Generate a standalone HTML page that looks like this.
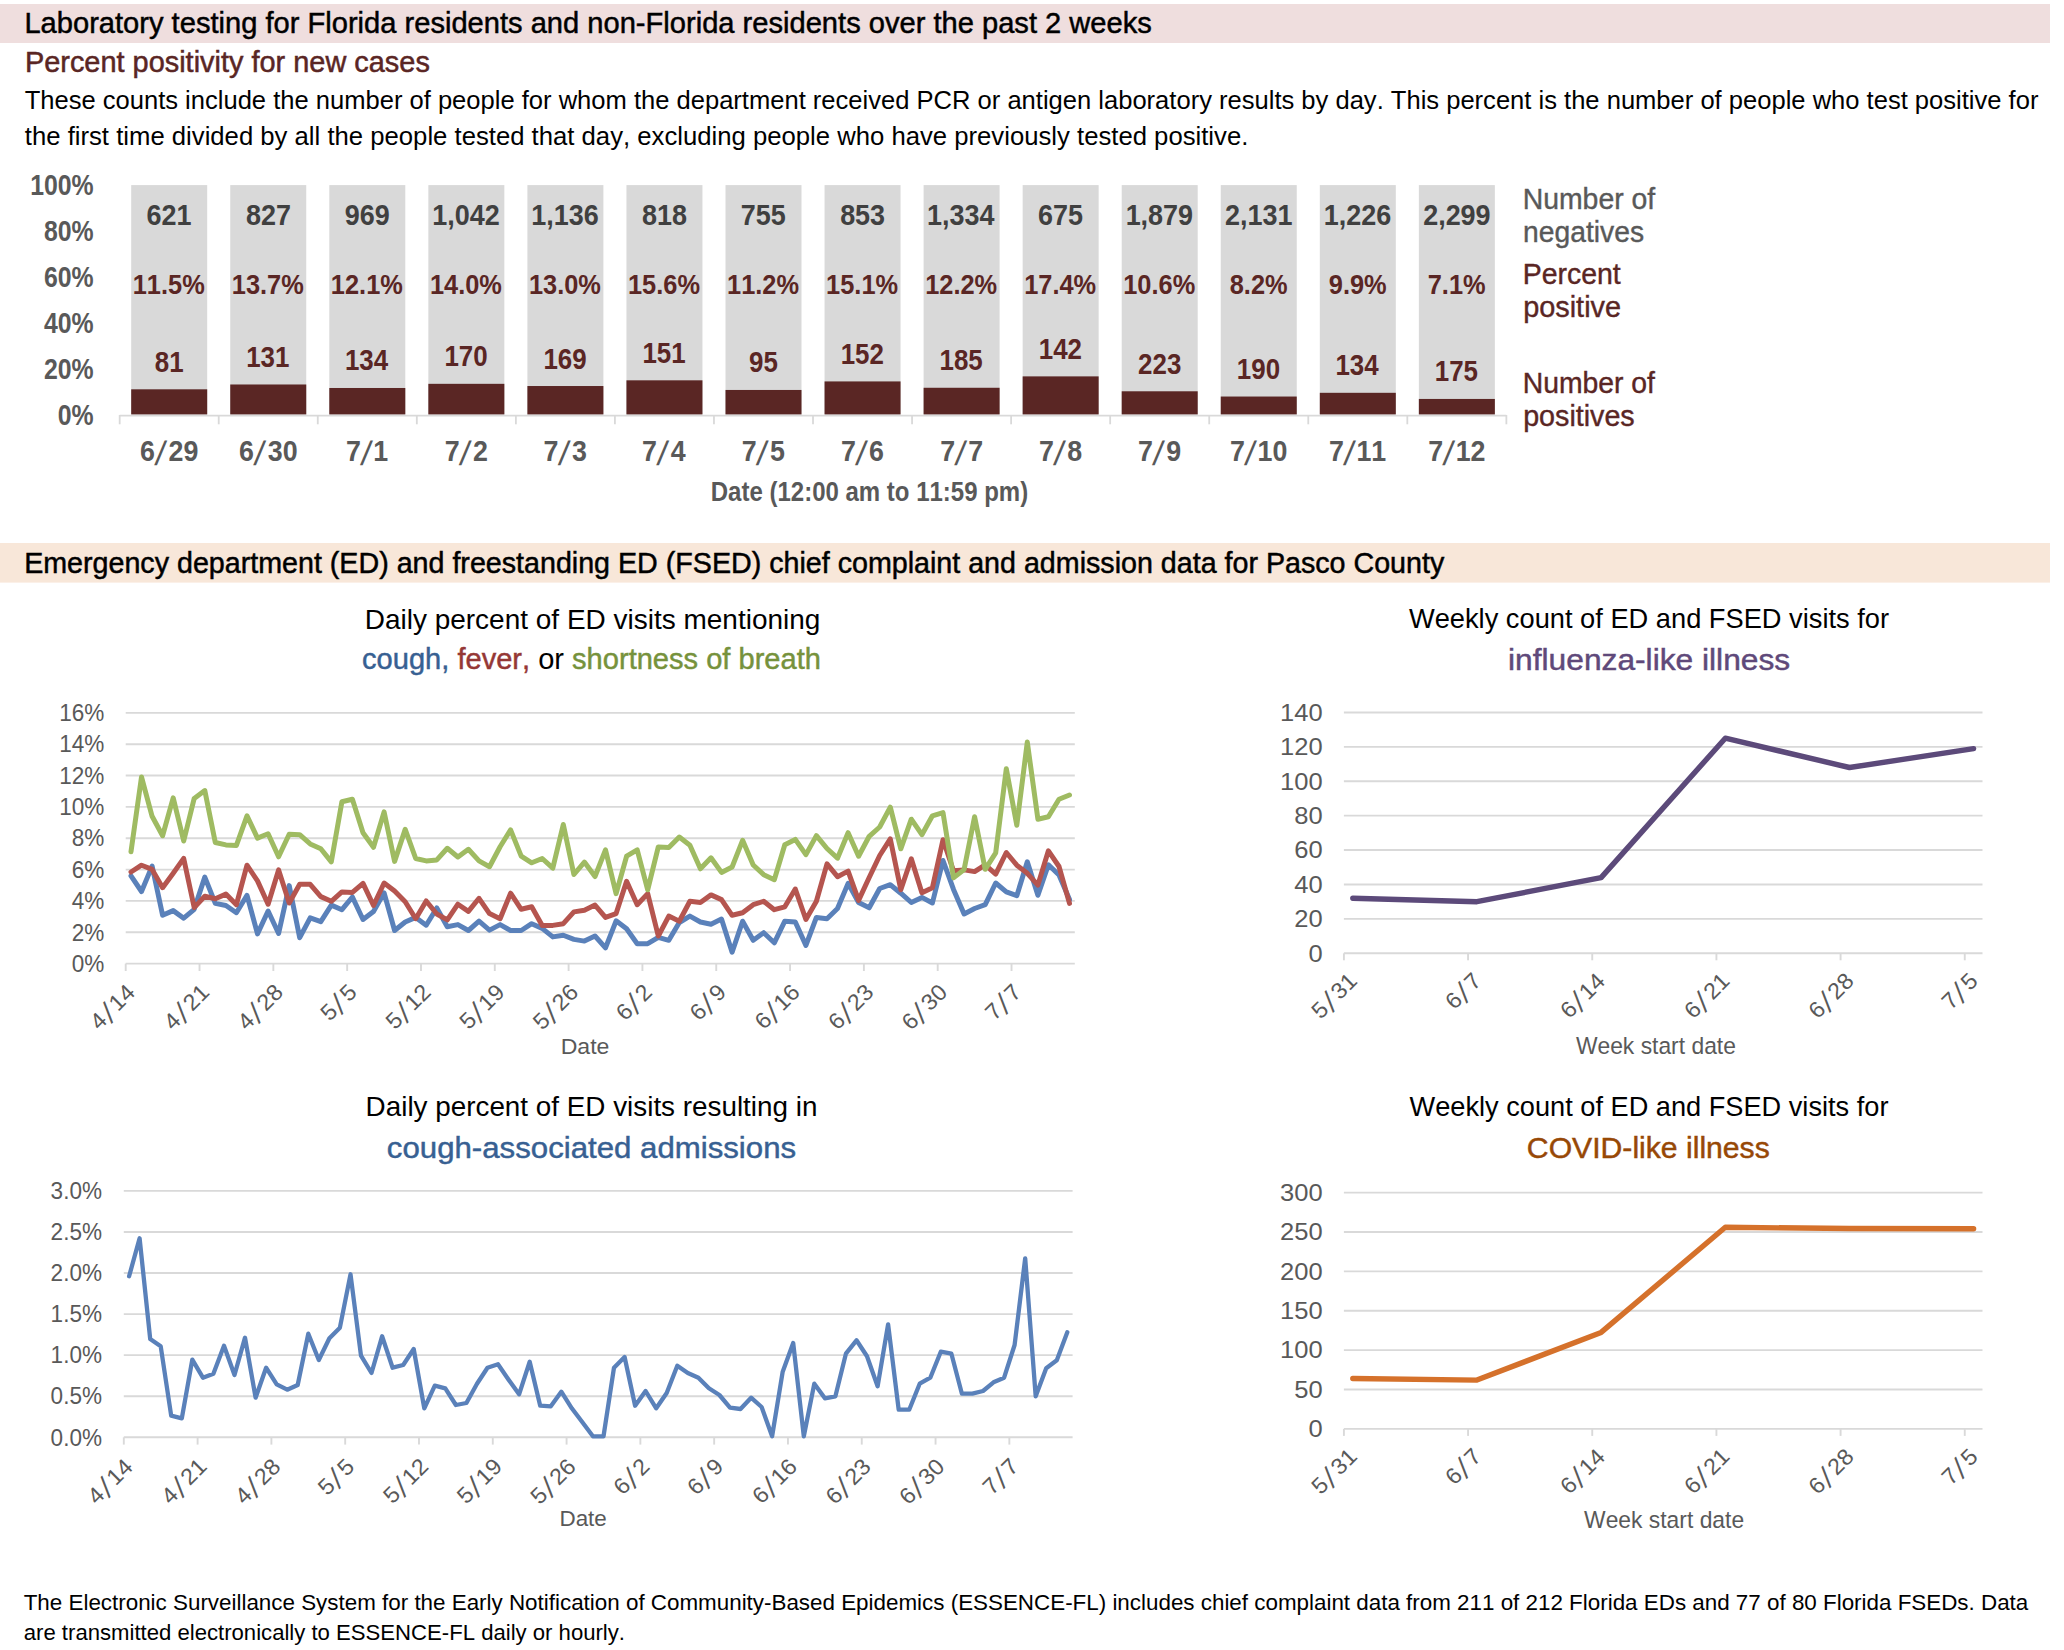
<!DOCTYPE html>
<html><head><meta charset="utf-8"><title>Pasco County COVID-19 report</title>
<style>
html,body{margin:0;padding:0;background:#fff;}
body{width:2064px;height:1650px;overflow:hidden;}
svg{display:block;font-family:"Liberation Sans",Arial,sans-serif;font-kerning:none;}
</style></head><body>
<svg width="2064" height="1650" viewBox="0 0 2064 1650">
<rect x="0.00" y="4.00" width="2050.00" height="39.00" fill="#EFDEDE"/>
<text x="24.41" y="32.90" font-size="30.23" textLength="1127.44" lengthAdjust="spacingAndGlyphs" fill="#000" stroke="#000" stroke-width="0.5">Laboratory testing for Florida residents and non-Florida residents over the past 2 weeks</text>
<text x="24.93" y="71.50" font-size="29.22" textLength="404.92" lengthAdjust="spacingAndGlyphs" fill="#5A2624" stroke="#5A2624" stroke-width="0.5">Percent positivity for new cases</text>
<text x="24.63" y="108.90" font-size="26.60" textLength="2013.80" lengthAdjust="spacingAndGlyphs" fill="#000">These counts include the number of people for whom the department received PCR or antigen laboratory results by day. This percent is the number of people who test positive for</text>
<text x="24.81" y="144.50" font-size="26.60" textLength="1223.53" lengthAdjust="spacingAndGlyphs" fill="#000">the first time divided by all the people tested that day, excluding people who have previously tested positive.</text>
<text x="57.75" y="424.60" font-size="29.36" textLength="35.90" lengthAdjust="spacingAndGlyphs" font-weight="bold" fill="#595959">0%</text>
<text x="43.94" y="378.72" font-size="29.36" textLength="49.72" lengthAdjust="spacingAndGlyphs" font-weight="bold" fill="#595959">20%</text>
<text x="43.94" y="332.84" font-size="29.36" textLength="49.72" lengthAdjust="spacingAndGlyphs" font-weight="bold" fill="#595959">40%</text>
<text x="43.94" y="286.96" font-size="29.36" textLength="49.72" lengthAdjust="spacingAndGlyphs" font-weight="bold" fill="#595959">60%</text>
<text x="43.94" y="241.08" font-size="29.36" textLength="49.72" lengthAdjust="spacingAndGlyphs" font-weight="bold" fill="#595959">80%</text>
<text x="30.13" y="195.20" font-size="29.36" textLength="63.53" lengthAdjust="spacingAndGlyphs" font-weight="bold" fill="#595959">100%</text>
<rect x="131.20" y="185.10" width="76.00" height="229.40" fill="#D9D9D9"/>
<rect x="131.20" y="389.31" width="76.00" height="25.19" fill="#5A2624"/>
<text x="146.60" y="225.00" font-size="29.94" textLength="44.96" lengthAdjust="spacingAndGlyphs" font-weight="bold" fill="#404040">621</text>
<text x="132.76" y="294.00" font-size="28.20" textLength="71.96" lengthAdjust="spacingAndGlyphs" font-weight="bold" fill="#5A2624">11.5%</text>
<text x="154.74" y="371.81" font-size="28.78" textLength="28.81" lengthAdjust="spacingAndGlyphs" font-weight="bold" fill="#5A2624">81</text>
<g transform="translate(169.20,461.00)" fill="#595959"><text x="-29.12" y="0" font-size="29.80" textLength="14.91" lengthAdjust="spacingAndGlyphs" font-weight="bold">6</text><text transform="translate(-14.87,4.37) matrix(1,0,-0.1459,1,0,0)" font-size="33.77">/</text><text x="-0.70" y="0" font-size="29.80" textLength="29.83" lengthAdjust="spacingAndGlyphs" font-weight="bold">29</text></g>
<rect x="230.25" y="185.10" width="76.00" height="229.40" fill="#D9D9D9"/>
<rect x="230.25" y="384.49" width="76.00" height="30.01" fill="#5A2624"/>
<text x="245.93" y="225.00" font-size="29.94" textLength="44.96" lengthAdjust="spacingAndGlyphs" font-weight="bold" fill="#404040">827</text>
<text x="231.81" y="294.00" font-size="28.20" textLength="71.96" lengthAdjust="spacingAndGlyphs" font-weight="bold" fill="#5A2624">13.7%</text>
<text x="246.19" y="366.99" font-size="28.78" textLength="43.22" lengthAdjust="spacingAndGlyphs" font-weight="bold" fill="#5A2624">131</text>
<g transform="translate(268.25,461.00)" fill="#595959"><text x="-29.22" y="0" font-size="29.80" textLength="14.91" lengthAdjust="spacingAndGlyphs" font-weight="bold">6</text><text transform="translate(-14.98,4.37) matrix(1,0,-0.1459,1,0,0)" font-size="33.77">/</text><text x="-0.49" y="0" font-size="29.80" textLength="29.83" lengthAdjust="spacingAndGlyphs" font-weight="bold">30</text></g>
<rect x="329.30" y="185.10" width="76.00" height="229.40" fill="#D9D9D9"/>
<rect x="329.30" y="387.99" width="76.00" height="26.51" fill="#5A2624"/>
<text x="344.85" y="225.00" font-size="29.94" textLength="44.96" lengthAdjust="spacingAndGlyphs" font-weight="bold" fill="#404040">969</text>
<text x="330.86" y="294.00" font-size="28.20" textLength="71.96" lengthAdjust="spacingAndGlyphs" font-weight="bold" fill="#5A2624">12.1%</text>
<text x="344.95" y="370.49" font-size="28.78" textLength="43.22" lengthAdjust="spacingAndGlyphs" font-weight="bold" fill="#5A2624">134</text>
<g transform="translate(367.30,461.00)" fill="#595959"><text x="-21.38" y="0" font-size="29.80" textLength="14.91" lengthAdjust="spacingAndGlyphs" font-weight="bold">7</text><text transform="translate(-7.35,4.37) matrix(1,0,-0.1459,1,0,0)" font-size="33.77">/</text><text x="6.06" y="0" font-size="29.80" textLength="14.91" lengthAdjust="spacingAndGlyphs" font-weight="bold">1</text></g>
<rect x="428.35" y="185.10" width="76.00" height="229.40" fill="#D9D9D9"/>
<rect x="428.35" y="383.83" width="76.00" height="30.67" fill="#5A2624"/>
<text x="432.32" y="225.00" font-size="29.94" textLength="67.44" lengthAdjust="spacingAndGlyphs" font-weight="bold" fill="#404040">1,042</text>
<text x="429.91" y="294.00" font-size="28.20" textLength="71.96" lengthAdjust="spacingAndGlyphs" font-weight="bold" fill="#5A2624">14.0%</text>
<text x="444.46" y="366.33" font-size="28.78" textLength="43.22" lengthAdjust="spacingAndGlyphs" font-weight="bold" fill="#5A2624">170</text>
<g transform="translate(466.35,461.00)" fill="#595959"><text x="-21.60" y="0" font-size="29.80" textLength="14.91" lengthAdjust="spacingAndGlyphs" font-weight="bold">7</text><text transform="translate(-7.56,4.37) matrix(1,0,-0.1459,1,0,0)" font-size="33.77">/</text><text x="6.61" y="0" font-size="29.80" textLength="14.91" lengthAdjust="spacingAndGlyphs" font-weight="bold">2</text></g>
<rect x="527.40" y="185.10" width="76.00" height="229.40" fill="#D9D9D9"/>
<rect x="527.40" y="386.02" width="76.00" height="28.48" fill="#5A2624"/>
<text x="531.32" y="225.00" font-size="29.94" textLength="67.44" lengthAdjust="spacingAndGlyphs" font-weight="bold" fill="#404040">1,136</text>
<text x="528.96" y="294.00" font-size="28.20" textLength="71.96" lengthAdjust="spacingAndGlyphs" font-weight="bold" fill="#5A2624">13.0%</text>
<text x="543.46" y="368.52" font-size="28.78" textLength="43.22" lengthAdjust="spacingAndGlyphs" font-weight="bold" fill="#5A2624">169</text>
<g transform="translate(565.40,461.00)" fill="#595959"><text x="-21.81" y="0" font-size="29.80" textLength="14.91" lengthAdjust="spacingAndGlyphs" font-weight="bold">7</text><text transform="translate(-7.77,4.37) matrix(1,0,-0.1459,1,0,0)" font-size="33.77">/</text><text x="6.71" y="0" font-size="29.80" textLength="14.91" lengthAdjust="spacingAndGlyphs" font-weight="bold">3</text></g>
<rect x="626.45" y="185.10" width="76.00" height="229.40" fill="#D9D9D9"/>
<rect x="626.45" y="380.32" width="76.00" height="34.18" fill="#5A2624"/>
<text x="641.96" y="225.00" font-size="29.94" textLength="44.96" lengthAdjust="spacingAndGlyphs" font-weight="bold" fill="#404040">818</text>
<text x="628.01" y="294.00" font-size="28.20" textLength="71.96" lengthAdjust="spacingAndGlyphs" font-weight="bold" fill="#5A2624">15.6%</text>
<text x="642.39" y="362.82" font-size="28.78" textLength="43.22" lengthAdjust="spacingAndGlyphs" font-weight="bold" fill="#5A2624">151</text>
<g transform="translate(664.45,461.00)" fill="#595959"><text x="-22.33" y="0" font-size="29.80" textLength="14.91" lengthAdjust="spacingAndGlyphs" font-weight="bold">7</text><text transform="translate(-8.29,4.37) matrix(1,0,-0.1459,1,0,0)" font-size="33.77">/</text><text x="6.40" y="0" font-size="29.80" textLength="14.91" lengthAdjust="spacingAndGlyphs" font-weight="bold">4</text></g>
<rect x="725.50" y="185.10" width="76.00" height="229.40" fill="#D9D9D9"/>
<rect x="725.50" y="389.96" width="76.00" height="24.54" fill="#5A2624"/>
<text x="740.82" y="225.00" font-size="29.94" textLength="44.96" lengthAdjust="spacingAndGlyphs" font-weight="bold" fill="#404040">755</text>
<text x="727.06" y="294.00" font-size="28.20" textLength="71.96" lengthAdjust="spacingAndGlyphs" font-weight="bold" fill="#5A2624">11.2%</text>
<text x="749.01" y="372.46" font-size="28.78" textLength="28.81" lengthAdjust="spacingAndGlyphs" font-weight="bold" fill="#5A2624">95</text>
<g transform="translate(763.50,461.00)" fill="#595959"><text x="-21.82" y="0" font-size="29.80" textLength="14.91" lengthAdjust="spacingAndGlyphs" font-weight="bold">7</text><text transform="translate(-7.78,4.37) matrix(1,0,-0.1459,1,0,0)" font-size="33.77">/</text><text x="6.50" y="0" font-size="29.80" textLength="14.91" lengthAdjust="spacingAndGlyphs" font-weight="bold">5</text></g>
<rect x="824.55" y="185.10" width="76.00" height="229.40" fill="#D9D9D9"/>
<rect x="824.55" y="381.42" width="76.00" height="33.08" fill="#5A2624"/>
<text x="840.13" y="225.00" font-size="29.94" textLength="44.96" lengthAdjust="spacingAndGlyphs" font-weight="bold" fill="#404040">853</text>
<text x="826.11" y="294.00" font-size="28.20" textLength="71.96" lengthAdjust="spacingAndGlyphs" font-weight="bold" fill="#5A2624">15.1%</text>
<text x="840.64" y="363.92" font-size="28.78" textLength="43.22" lengthAdjust="spacingAndGlyphs" font-weight="bold" fill="#5A2624">152</text>
<g transform="translate(862.55,461.00)" fill="#595959"><text x="-21.63" y="0" font-size="29.80" textLength="14.91" lengthAdjust="spacingAndGlyphs" font-weight="bold">7</text><text transform="translate(-7.59,4.37) matrix(1,0,-0.1459,1,0,0)" font-size="33.77">/</text><text x="6.53" y="0" font-size="29.80" textLength="14.91" lengthAdjust="spacingAndGlyphs" font-weight="bold">6</text></g>
<rect x="923.60" y="185.10" width="76.00" height="229.40" fill="#D9D9D9"/>
<rect x="923.60" y="387.77" width="76.00" height="26.73" fill="#5A2624"/>
<text x="927.11" y="225.00" font-size="29.94" textLength="67.44" lengthAdjust="spacingAndGlyphs" font-weight="bold" fill="#404040">1,334</text>
<text x="925.16" y="294.00" font-size="28.20" textLength="71.96" lengthAdjust="spacingAndGlyphs" font-weight="bold" fill="#5A2624">12.2%</text>
<text x="939.54" y="370.27" font-size="28.78" textLength="43.22" lengthAdjust="spacingAndGlyphs" font-weight="bold" fill="#5A2624">185</text>
<g transform="translate(961.60,461.00)" fill="#595959"><text x="-21.44" y="0" font-size="29.80" textLength="14.91" lengthAdjust="spacingAndGlyphs" font-weight="bold">7</text><text transform="translate(-7.40,4.37) matrix(1,0,-0.1459,1,0,0)" font-size="33.77">/</text><text x="6.55" y="0" font-size="29.80" textLength="14.91" lengthAdjust="spacingAndGlyphs" font-weight="bold">7</text></g>
<rect x="1022.65" y="185.10" width="76.00" height="229.40" fill="#D9D9D9"/>
<rect x="1022.65" y="376.38" width="76.00" height="38.12" fill="#5A2624"/>
<text x="1038.05" y="225.00" font-size="29.94" textLength="44.96" lengthAdjust="spacingAndGlyphs" font-weight="bold" fill="#404040">675</text>
<text x="1024.21" y="294.00" font-size="28.20" textLength="71.96" lengthAdjust="spacingAndGlyphs" font-weight="bold" fill="#5A2624">17.4%</text>
<text x="1038.74" y="358.88" font-size="28.78" textLength="43.22" lengthAdjust="spacingAndGlyphs" font-weight="bold" fill="#5A2624">142</text>
<g transform="translate(1060.65,461.00)" fill="#595959"><text x="-21.76" y="0" font-size="29.80" textLength="14.91" lengthAdjust="spacingAndGlyphs" font-weight="bold">7</text><text transform="translate(-7.73,4.37) matrix(1,0,-0.1459,1,0,0)" font-size="33.77">/</text><text x="6.52" y="0" font-size="29.80" textLength="14.91" lengthAdjust="spacingAndGlyphs" font-weight="bold">8</text></g>
<rect x="1121.70" y="185.10" width="76.00" height="229.40" fill="#D9D9D9"/>
<rect x="1121.70" y="391.28" width="76.00" height="23.22" fill="#5A2624"/>
<text x="1125.63" y="225.00" font-size="29.94" textLength="67.44" lengthAdjust="spacingAndGlyphs" font-weight="bold" fill="#404040">1,879</text>
<text x="1123.26" y="294.00" font-size="28.20" textLength="71.96" lengthAdjust="spacingAndGlyphs" font-weight="bold" fill="#5A2624">10.6%</text>
<text x="1138.11" y="373.78" font-size="28.78" textLength="43.22" lengthAdjust="spacingAndGlyphs" font-weight="bold" fill="#5A2624">223</text>
<g transform="translate(1159.70,461.00)" fill="#595959"><text x="-21.64" y="0" font-size="29.80" textLength="14.91" lengthAdjust="spacingAndGlyphs" font-weight="bold">7</text><text transform="translate(-7.60,4.37) matrix(1,0,-0.1459,1,0,0)" font-size="33.77">/</text><text x="6.57" y="0" font-size="29.80" textLength="14.91" lengthAdjust="spacingAndGlyphs" font-weight="bold">9</text></g>
<rect x="1220.75" y="185.10" width="76.00" height="229.40" fill="#D9D9D9"/>
<rect x="1220.75" y="396.54" width="76.00" height="17.96" fill="#5A2624"/>
<text x="1224.94" y="225.00" font-size="29.94" textLength="67.44" lengthAdjust="spacingAndGlyphs" font-weight="bold" fill="#404040">2,131</text>
<text x="1229.76" y="294.00" font-size="28.20" textLength="57.84" lengthAdjust="spacingAndGlyphs" font-weight="bold" fill="#5A2624">8.2%</text>
<text x="1236.86" y="379.04" font-size="28.78" textLength="43.22" lengthAdjust="spacingAndGlyphs" font-weight="bold" fill="#5A2624">190</text>
<g transform="translate(1258.75,461.00)" fill="#595959"><text x="-28.66" y="0" font-size="29.80" textLength="14.91" lengthAdjust="spacingAndGlyphs" font-weight="bold">7</text><text transform="translate(-14.63,4.37) matrix(1,0,-0.1459,1,0,0)" font-size="33.77">/</text><text x="-1.22" y="0" font-size="29.80" textLength="29.83" lengthAdjust="spacingAndGlyphs" font-weight="bold">10</text></g>
<rect x="1319.80" y="185.10" width="76.00" height="229.40" fill="#D9D9D9"/>
<rect x="1319.80" y="392.81" width="76.00" height="21.69" fill="#5A2624"/>
<text x="1323.72" y="225.00" font-size="29.94" textLength="67.44" lengthAdjust="spacingAndGlyphs" font-weight="bold" fill="#404040">1,226</text>
<text x="1328.77" y="294.00" font-size="28.20" textLength="57.84" lengthAdjust="spacingAndGlyphs" font-weight="bold" fill="#5A2624">9.9%</text>
<text x="1335.45" y="375.31" font-size="28.78" textLength="43.22" lengthAdjust="spacingAndGlyphs" font-weight="bold" fill="#5A2624">134</text>
<g transform="translate(1357.80,461.00)" fill="#595959"><text x="-28.84" y="0" font-size="29.80" textLength="14.91" lengthAdjust="spacingAndGlyphs" font-weight="bold">7</text><text transform="translate(-14.80,4.37) matrix(1,0,-0.1459,1,0,0)" font-size="33.77">/</text><text x="-1.39" y="0" font-size="29.80" textLength="29.83" lengthAdjust="spacingAndGlyphs" font-weight="bold">11</text></g>
<rect x="1418.85" y="185.10" width="76.00" height="229.40" fill="#D9D9D9"/>
<rect x="1418.85" y="398.95" width="76.00" height="15.55" fill="#5A2624"/>
<text x="1423.16" y="225.00" font-size="29.94" textLength="67.44" lengthAdjust="spacingAndGlyphs" font-weight="bold" fill="#404040">2,299</text>
<text x="1427.72" y="294.00" font-size="28.20" textLength="57.84" lengthAdjust="spacingAndGlyphs" font-weight="bold" fill="#5A2624">7.1%</text>
<text x="1434.79" y="381.45" font-size="28.78" textLength="43.22" lengthAdjust="spacingAndGlyphs" font-weight="bold" fill="#5A2624">175</text>
<g transform="translate(1456.85,461.00)" fill="#595959"><text x="-28.68" y="0" font-size="29.80" textLength="14.91" lengthAdjust="spacingAndGlyphs" font-weight="bold">7</text><text transform="translate(-14.64,4.37) matrix(1,0,-0.1459,1,0,0)" font-size="33.77">/</text><text x="-1.23" y="0" font-size="29.80" textLength="29.83" lengthAdjust="spacingAndGlyphs" font-weight="bold">12</text></g>
<line x1="119.67" y1="415.60" x2="1506.38" y2="415.60" stroke="#D9D9D9" stroke-width="1.60"/>
<line x1="119.67" y1="415.00" x2="119.67" y2="424.30" stroke="#D9D9D9" stroke-width="1.80"/>
<line x1="218.72" y1="415.00" x2="218.72" y2="424.30" stroke="#D9D9D9" stroke-width="1.80"/>
<line x1="317.77" y1="415.00" x2="317.77" y2="424.30" stroke="#D9D9D9" stroke-width="1.80"/>
<line x1="416.82" y1="415.00" x2="416.82" y2="424.30" stroke="#D9D9D9" stroke-width="1.80"/>
<line x1="515.88" y1="415.00" x2="515.88" y2="424.30" stroke="#D9D9D9" stroke-width="1.80"/>
<line x1="614.92" y1="415.00" x2="614.92" y2="424.30" stroke="#D9D9D9" stroke-width="1.80"/>
<line x1="713.97" y1="415.00" x2="713.97" y2="424.30" stroke="#D9D9D9" stroke-width="1.80"/>
<line x1="813.02" y1="415.00" x2="813.02" y2="424.30" stroke="#D9D9D9" stroke-width="1.80"/>
<line x1="912.07" y1="415.00" x2="912.07" y2="424.30" stroke="#D9D9D9" stroke-width="1.80"/>
<line x1="1011.12" y1="415.00" x2="1011.12" y2="424.30" stroke="#D9D9D9" stroke-width="1.80"/>
<line x1="1110.17" y1="415.00" x2="1110.17" y2="424.30" stroke="#D9D9D9" stroke-width="1.80"/>
<line x1="1209.22" y1="415.00" x2="1209.22" y2="424.30" stroke="#D9D9D9" stroke-width="1.80"/>
<line x1="1308.27" y1="415.00" x2="1308.27" y2="424.30" stroke="#D9D9D9" stroke-width="1.80"/>
<line x1="1407.32" y1="415.00" x2="1407.32" y2="424.30" stroke="#D9D9D9" stroke-width="1.80"/>
<line x1="1506.38" y1="415.00" x2="1506.38" y2="424.30" stroke="#D9D9D9" stroke-width="1.80"/>
<text x="710.79" y="501.30" font-size="27.62" textLength="317.40" lengthAdjust="spacingAndGlyphs" font-weight="bold" fill="#595959">Date (12:00 am to 11:59 pm)</text>
<text x="1522.67" y="209.30" font-size="29.80" textLength="132.59" lengthAdjust="spacingAndGlyphs" fill="#595959" stroke="#595959" stroke-width="0.4">Number of</text>
<text x="1523.12" y="242.00" font-size="29.80" textLength="120.90" lengthAdjust="spacingAndGlyphs" fill="#595959" stroke="#595959" stroke-width="0.4">negatives</text>
<text x="1522.66" y="283.70" font-size="29.80" textLength="98.14" lengthAdjust="spacingAndGlyphs" fill="#5A2624" stroke="#5A2624" stroke-width="0.4">Percent</text>
<text x="1523.14" y="316.50" font-size="29.80" textLength="97.95" lengthAdjust="spacingAndGlyphs" fill="#5A2624" stroke="#5A2624" stroke-width="0.4">positive</text>
<text x="1522.68" y="393.40" font-size="29.80" textLength="132.28" lengthAdjust="spacingAndGlyphs" fill="#5A2624" stroke="#5A2624" stroke-width="0.4">Number of</text>
<text x="1523.15" y="426.00" font-size="29.80" textLength="111.58" lengthAdjust="spacingAndGlyphs" fill="#5A2624" stroke="#5A2624" stroke-width="0.4">positives</text>
<rect x="0.00" y="543.00" width="2050.00" height="39.60" fill="#F8E7D9"/>
<text x="24.15" y="573.20" font-size="29.36" textLength="1420.11" lengthAdjust="spacingAndGlyphs" fill="#000" stroke="#000" stroke-width="0.5">Emergency department (ED) and freestanding ED (FSED) chief complaint and admission data for Pasco County</text>
<line x1="125.70" y1="963.60" x2="1074.80" y2="963.60" stroke="#D9D9D9" stroke-width="1.90"/>
<text x="71.82" y="971.85" font-size="23.98" textLength="32.58" lengthAdjust="spacingAndGlyphs" fill="#595959">0%</text>
<line x1="125.70" y1="932.26" x2="1074.80" y2="932.26" stroke="#D9D9D9" stroke-width="1.90"/>
<text x="71.82" y="940.51" font-size="23.98" textLength="32.58" lengthAdjust="spacingAndGlyphs" fill="#595959">2%</text>
<line x1="125.70" y1="900.92" x2="1074.80" y2="900.92" stroke="#D9D9D9" stroke-width="1.90"/>
<text x="71.82" y="909.17" font-size="23.98" textLength="32.58" lengthAdjust="spacingAndGlyphs" fill="#595959">4%</text>
<line x1="125.70" y1="869.58" x2="1074.80" y2="869.58" stroke="#D9D9D9" stroke-width="1.90"/>
<text x="71.82" y="877.83" font-size="23.98" textLength="32.58" lengthAdjust="spacingAndGlyphs" fill="#595959">6%</text>
<line x1="125.70" y1="838.24" x2="1074.80" y2="838.24" stroke="#D9D9D9" stroke-width="1.90"/>
<text x="71.82" y="846.49" font-size="23.98" textLength="32.58" lengthAdjust="spacingAndGlyphs" fill="#595959">8%</text>
<line x1="125.70" y1="806.90" x2="1074.80" y2="806.90" stroke="#D9D9D9" stroke-width="1.90"/>
<text x="59.28" y="815.15" font-size="23.98" textLength="45.12" lengthAdjust="spacingAndGlyphs" fill="#595959">10%</text>
<line x1="125.70" y1="775.56" x2="1074.80" y2="775.56" stroke="#D9D9D9" stroke-width="1.90"/>
<text x="59.28" y="783.81" font-size="23.98" textLength="45.12" lengthAdjust="spacingAndGlyphs" fill="#595959">12%</text>
<line x1="125.70" y1="744.22" x2="1074.80" y2="744.22" stroke="#D9D9D9" stroke-width="1.90"/>
<text x="59.28" y="752.47" font-size="23.98" textLength="45.12" lengthAdjust="spacingAndGlyphs" fill="#595959">14%</text>
<line x1="125.70" y1="712.88" x2="1074.80" y2="712.88" stroke="#D9D9D9" stroke-width="1.90"/>
<text x="59.28" y="721.13" font-size="23.98" textLength="45.12" lengthAdjust="spacingAndGlyphs" fill="#595959">16%</text>
<line x1="125.70" y1="963.60" x2="125.70" y2="971.00" stroke="#D9D9D9" stroke-width="1.90"/>
<g transform="translate(136.00,994.30) rotate(-45)" fill="#595959"><text x="-51.96" y="0" font-size="22.70" textLength="13.00" lengthAdjust="spacingAndGlyphs">4</text><text transform="translate(-38.34,3.32) matrix(1,0,-0.1693,1,0,0)" font-size="28.60">/</text><text x="-25.32" y="0" font-size="22.70" textLength="26.01" lengthAdjust="spacingAndGlyphs">14</text></g>
<line x1="199.52" y1="963.60" x2="199.52" y2="971.00" stroke="#D9D9D9" stroke-width="1.90"/>
<g transform="translate(209.82,994.30) rotate(-45)" fill="#595959"><text x="-52.11" y="0" font-size="22.70" textLength="13.00" lengthAdjust="spacingAndGlyphs">4</text><text transform="translate(-38.49,3.32) matrix(1,0,-0.1693,1,0,0)" font-size="28.60">/</text><text x="-24.87" y="0" font-size="22.70" textLength="26.01" lengthAdjust="spacingAndGlyphs">21</text></g>
<line x1="273.34" y1="963.60" x2="273.34" y2="971.00" stroke="#D9D9D9" stroke-width="1.90"/>
<g transform="translate(283.64,994.30) rotate(-45)" fill="#595959"><text x="-52.23" y="0" font-size="22.70" textLength="13.00" lengthAdjust="spacingAndGlyphs">4</text><text transform="translate(-38.61,3.32) matrix(1,0,-0.1693,1,0,0)" font-size="28.60">/</text><text x="-24.99" y="0" font-size="22.70" textLength="26.01" lengthAdjust="spacingAndGlyphs">28</text></g>
<line x1="347.16" y1="963.60" x2="347.16" y2="971.00" stroke="#D9D9D9" stroke-width="1.90"/>
<g transform="translate(357.46,994.30) rotate(-45)" fill="#595959"><text x="-39.21" y="0" font-size="22.70" textLength="13.00" lengthAdjust="spacingAndGlyphs">5</text><text transform="translate(-25.89,3.32) matrix(1,0,-0.1693,1,0,0)" font-size="28.60">/</text><text x="-12.02" y="0" font-size="22.70" textLength="13.00" lengthAdjust="spacingAndGlyphs">5</text></g>
<line x1="420.98" y1="963.60" x2="420.98" y2="971.00" stroke="#D9D9D9" stroke-width="1.90"/>
<g transform="translate(431.28,994.30) rotate(-45)" fill="#595959"><text x="-51.17" y="0" font-size="22.70" textLength="13.00" lengthAdjust="spacingAndGlyphs">5</text><text transform="translate(-37.85,3.32) matrix(1,0,-0.1693,1,0,0)" font-size="28.60">/</text><text x="-24.83" y="0" font-size="22.70" textLength="26.01" lengthAdjust="spacingAndGlyphs">12</text></g>
<line x1="494.79" y1="963.60" x2="494.79" y2="971.00" stroke="#D9D9D9" stroke-width="1.90"/>
<g transform="translate(505.09,994.30) rotate(-45)" fill="#595959"><text x="-51.24" y="0" font-size="22.70" textLength="13.00" lengthAdjust="spacingAndGlyphs">5</text><text transform="translate(-37.92,3.32) matrix(1,0,-0.1693,1,0,0)" font-size="28.60">/</text><text x="-24.90" y="0" font-size="22.70" textLength="26.01" lengthAdjust="spacingAndGlyphs">19</text></g>
<line x1="568.61" y1="963.60" x2="568.61" y2="971.00" stroke="#D9D9D9" stroke-width="1.90"/>
<g transform="translate(578.91,994.30) rotate(-45)" fill="#595959"><text x="-51.92" y="0" font-size="22.70" textLength="13.00" lengthAdjust="spacingAndGlyphs">5</text><text transform="translate(-38.60,3.32) matrix(1,0,-0.1693,1,0,0)" font-size="28.60">/</text><text x="-24.98" y="0" font-size="22.70" textLength="26.01" lengthAdjust="spacingAndGlyphs">26</text></g>
<line x1="642.43" y1="963.60" x2="642.43" y2="971.00" stroke="#D9D9D9" stroke-width="1.90"/>
<g transform="translate(652.73,994.30) rotate(-45)" fill="#595959"><text x="-38.73" y="0" font-size="22.70" textLength="13.00" lengthAdjust="spacingAndGlyphs">6</text><text transform="translate(-25.45,3.32) matrix(1,0,-0.1693,1,0,0)" font-size="28.60">/</text><text x="-11.83" y="0" font-size="22.70" textLength="13.00" lengthAdjust="spacingAndGlyphs">2</text></g>
<line x1="716.25" y1="963.60" x2="716.25" y2="971.00" stroke="#D9D9D9" stroke-width="1.90"/>
<g transform="translate(726.55,994.30) rotate(-45)" fill="#595959"><text x="-38.88" y="0" font-size="22.70" textLength="13.00" lengthAdjust="spacingAndGlyphs">6</text><text transform="translate(-25.60,3.32) matrix(1,0,-0.1693,1,0,0)" font-size="28.60">/</text><text x="-11.90" y="0" font-size="22.70" textLength="13.00" lengthAdjust="spacingAndGlyphs">9</text></g>
<line x1="790.07" y1="963.60" x2="790.07" y2="971.00" stroke="#D9D9D9" stroke-width="1.90"/>
<g transform="translate(800.37,994.30) rotate(-45)" fill="#595959"><text x="-51.27" y="0" font-size="22.70" textLength="13.00" lengthAdjust="spacingAndGlyphs">6</text><text transform="translate(-38.00,3.32) matrix(1,0,-0.1693,1,0,0)" font-size="28.60">/</text><text x="-24.98" y="0" font-size="22.70" textLength="26.01" lengthAdjust="spacingAndGlyphs">16</text></g>
<line x1="863.89" y1="963.60" x2="863.89" y2="971.00" stroke="#D9D9D9" stroke-width="1.90"/>
<g transform="translate(874.19,994.30) rotate(-45)" fill="#595959"><text x="-51.88" y="0" font-size="22.70" textLength="13.00" lengthAdjust="spacingAndGlyphs">6</text><text transform="translate(-38.60,3.32) matrix(1,0,-0.1693,1,0,0)" font-size="28.60">/</text><text x="-24.98" y="0" font-size="22.70" textLength="26.01" lengthAdjust="spacingAndGlyphs">23</text></g>
<line x1="937.71" y1="963.60" x2="937.71" y2="971.00" stroke="#D9D9D9" stroke-width="1.90"/>
<g transform="translate(948.01,994.30) rotate(-45)" fill="#595959"><text x="-52.28" y="0" font-size="22.70" textLength="13.00" lengthAdjust="spacingAndGlyphs">6</text><text transform="translate(-39.00,3.32) matrix(1,0,-0.1693,1,0,0)" font-size="28.60">/</text><text x="-25.09" y="0" font-size="22.70" textLength="26.01" lengthAdjust="spacingAndGlyphs">30</text></g>
<line x1="1011.53" y1="963.60" x2="1011.53" y2="971.00" stroke="#D9D9D9" stroke-width="1.90"/>
<g transform="translate(1021.83,994.30) rotate(-45)" fill="#595959"><text x="-38.56" y="0" font-size="22.70" textLength="13.00" lengthAdjust="spacingAndGlyphs">7</text><text transform="translate(-25.43,3.32) matrix(1,0,-0.1693,1,0,0)" font-size="28.60">/</text><text x="-11.83" y="0" font-size="22.70" textLength="13.00" lengthAdjust="spacingAndGlyphs">7</text></g>
<text x="560.71" y="1053.70" font-size="22.82" textLength="48.72" lengthAdjust="spacingAndGlyphs" fill="#595959">Date</text>
<polyline fill="none" stroke="#5A81BA" stroke-width="5.00" stroke-linejoin="round" stroke-linecap="round" points="131.0,875.8 141.5,891.5 152.1,866.1 162.6,915.3 173.2,910.6 183.7,918.2 194.2,909.3 204.8,877.1 215.3,903.4 225.9,905.5 236.4,912.7 247.0,895.3 257.5,933.9 268.1,911.0 278.6,933.5 289.2,885.6 299.7,937.7 310.2,917.8 320.8,921.6 331.3,905.1 341.9,909.7 352.4,897.0 363.0,919.5 373.5,911.4 384.1,892.8 394.6,930.5 405.2,922.0 415.7,917.4 426.2,925.2 436.8,908.0 447.3,926.7 457.9,924.6 468.4,930.5 479.0,921.2 489.5,930.1 500.1,924.6 510.6,930.5 521.2,930.5 531.7,923.7 542.2,928.4 552.8,936.9 563.3,935.2 573.9,939.4 584.4,941.1 595.0,936.0 605.5,947.9 616.1,920.8 626.6,928.8 637.2,943.7 647.7,943.7 658.3,937.3 668.8,940.3 679.3,922.5 689.9,916.1 700.4,922.0 711.0,924.2 721.5,919.1 732.1,952.2 742.6,921.2 753.2,940.3 763.7,932.7 774.3,942.8 784.8,921.2 795.3,922.0 805.9,945.4 816.4,917.4 827.0,918.7 837.5,908.5 848.1,883.4 858.6,902.5 869.2,907.8 879.7,888.5 890.3,884.7 900.8,893.2 911.3,902.5 921.9,897.4 932.4,903.0 943.0,860.5 953.5,889.4 964.1,914.0 974.6,908.5 985.2,904.7 995.7,883.0 1006.3,891.9 1016.8,895.7 1027.3,861.8 1037.9,895.3 1048.4,864.8 1059.0,875.0 1069.5,899.6"/>
<polyline fill="none" stroke="#B5554F" stroke-width="5.00" stroke-linejoin="round" stroke-linecap="round" points="131.0,872.0 141.5,865.2 152.1,869.4 162.6,887.7 173.2,873.3 183.7,858.4 194.2,907.6 204.8,896.2 215.3,898.7 225.9,894.1 236.4,904.7 247.0,865.2 257.5,880.9 268.1,904.2 278.6,869.9 289.2,903.0 299.7,884.3 310.2,884.3 320.8,896.6 331.3,901.3 341.9,891.9 352.4,892.4 363.0,883.4 373.5,905.5 384.1,883.0 394.6,891.1 405.2,901.7 415.7,918.7 426.2,901.0 436.8,914.0 447.3,919.9 457.9,904.2 468.4,911.4 479.0,898.3 489.5,913.6 500.1,918.7 510.6,893.2 521.2,909.3 531.7,906.8 542.2,925.4 552.8,925.4 563.3,923.7 573.9,911.9 584.4,910.2 595.0,905.1 605.5,917.4 616.1,913.6 626.6,881.3 637.2,904.7 647.7,893.6 658.3,936.0 668.8,916.1 679.3,921.2 689.9,901.3 700.4,902.5 711.0,894.9 721.5,899.6 732.1,915.3 742.6,912.7 753.2,904.7 763.7,901.3 774.3,909.7 784.8,906.8 795.3,889.0 805.9,919.5 816.4,901.3 827.0,863.9 837.5,876.7 848.1,871.1 858.6,900.4 869.2,877.5 879.7,855.5 890.3,838.9 900.8,889.8 911.3,858.8 921.9,892.8 932.4,887.7 943.0,839.8 953.5,870.7 964.1,869.9 974.6,871.6 985.2,864.8 995.7,874.1 1006.3,852.5 1016.8,865.2 1027.3,873.3 1037.9,885.1 1048.4,850.8 1059.0,866.5 1069.5,903.4"/>
<polyline fill="none" stroke="#9FBB62" stroke-width="5.00" stroke-linejoin="round" stroke-linecap="round" points="131.0,851.7 141.5,777.0 152.1,816.3 162.6,835.7 173.2,797.9 183.7,841.0 194.2,798.4 204.8,790.6 215.3,842.5 225.9,844.9 236.4,845.4 247.0,815.8 257.5,838.1 268.1,833.8 278.6,856.8 289.2,834.2 299.7,834.7 310.2,843.9 320.8,848.8 331.3,861.9 341.9,801.8 352.4,799.3 363.0,832.8 373.5,847.3 384.1,811.9 394.6,861.4 405.2,829.4 415.7,858.5 426.2,860.9 436.8,859.9 447.3,848.3 457.9,857.0 468.4,849.3 479.0,860.9 489.5,866.7 500.1,846.8 510.6,829.9 521.2,856.1 531.7,862.8 542.2,858.5 552.8,868.2 563.3,824.5 573.9,874.5 584.4,862.1 595.0,876.5 605.5,849.8 616.1,893.6 626.6,856.2 637.2,849.9 647.7,889.8 658.3,846.9 668.8,847.6 679.3,837.0 689.9,845.3 700.4,868.8 711.0,857.8 721.5,872.4 732.1,867.0 742.6,840.3 753.2,865.0 763.7,874.7 774.3,879.7 784.8,844.7 795.3,839.4 805.9,854.6 816.4,835.6 827.0,848.5 837.5,858.2 848.1,832.7 858.6,856.2 869.2,836.3 879.7,827.0 890.3,807.1 900.8,848.8 911.3,819.2 921.9,834.7 932.4,815.8 943.0,812.6 953.5,877.9 964.1,869.6 974.6,816.8 985.2,869.3 995.7,852.9 1006.3,768.8 1016.8,825.3 1027.3,742.1 1037.9,819.2 1048.4,816.8 1059.0,799.3 1069.5,795.0"/>
<line x1="123.80" y1="1437.30" x2="1072.60" y2="1437.30" stroke="#D9D9D9" stroke-width="1.90"/>
<text x="50.62" y="1445.55" font-size="23.98" textLength="51.38" lengthAdjust="spacingAndGlyphs" fill="#595959">0.0%</text>
<line x1="123.80" y1="1396.23" x2="1072.60" y2="1396.23" stroke="#D9D9D9" stroke-width="1.90"/>
<text x="50.62" y="1404.48" font-size="23.98" textLength="51.38" lengthAdjust="spacingAndGlyphs" fill="#595959">0.5%</text>
<line x1="123.80" y1="1355.16" x2="1072.60" y2="1355.16" stroke="#D9D9D9" stroke-width="1.90"/>
<text x="50.62" y="1363.41" font-size="23.98" textLength="51.38" lengthAdjust="spacingAndGlyphs" fill="#595959">1.0%</text>
<line x1="123.80" y1="1314.09" x2="1072.60" y2="1314.09" stroke="#D9D9D9" stroke-width="1.90"/>
<text x="50.62" y="1322.34" font-size="23.98" textLength="51.38" lengthAdjust="spacingAndGlyphs" fill="#595959">1.5%</text>
<line x1="123.80" y1="1273.02" x2="1072.60" y2="1273.02" stroke="#D9D9D9" stroke-width="1.90"/>
<text x="50.62" y="1281.27" font-size="23.98" textLength="51.38" lengthAdjust="spacingAndGlyphs" fill="#595959">2.0%</text>
<line x1="123.80" y1="1231.95" x2="1072.60" y2="1231.95" stroke="#D9D9D9" stroke-width="1.90"/>
<text x="50.62" y="1240.20" font-size="23.98" textLength="51.38" lengthAdjust="spacingAndGlyphs" fill="#595959">2.5%</text>
<line x1="123.80" y1="1190.88" x2="1072.60" y2="1190.88" stroke="#D9D9D9" stroke-width="1.90"/>
<text x="50.62" y="1199.13" font-size="23.98" textLength="51.38" lengthAdjust="spacingAndGlyphs" fill="#595959">3.0%</text>
<line x1="123.80" y1="1437.30" x2="123.80" y2="1444.60" stroke="#D9D9D9" stroke-width="1.90"/>
<g transform="translate(133.60,1468.70) rotate(-45)" fill="#595959"><text x="-51.96" y="0" font-size="22.70" textLength="13.00" lengthAdjust="spacingAndGlyphs">4</text><text transform="translate(-38.34,3.32) matrix(1,0,-0.1693,1,0,0)" font-size="28.60">/</text><text x="-25.32" y="0" font-size="22.70" textLength="26.01" lengthAdjust="spacingAndGlyphs">14</text></g>
<line x1="197.60" y1="1437.30" x2="197.60" y2="1444.60" stroke="#D9D9D9" stroke-width="1.90"/>
<g transform="translate(207.40,1468.70) rotate(-45)" fill="#595959"><text x="-52.11" y="0" font-size="22.70" textLength="13.00" lengthAdjust="spacingAndGlyphs">4</text><text transform="translate(-38.49,3.32) matrix(1,0,-0.1693,1,0,0)" font-size="28.60">/</text><text x="-24.87" y="0" font-size="22.70" textLength="26.01" lengthAdjust="spacingAndGlyphs">21</text></g>
<line x1="271.39" y1="1437.30" x2="271.39" y2="1444.60" stroke="#D9D9D9" stroke-width="1.90"/>
<g transform="translate(281.19,1468.70) rotate(-45)" fill="#595959"><text x="-52.23" y="0" font-size="22.70" textLength="13.00" lengthAdjust="spacingAndGlyphs">4</text><text transform="translate(-38.61,3.32) matrix(1,0,-0.1693,1,0,0)" font-size="28.60">/</text><text x="-24.99" y="0" font-size="22.70" textLength="26.01" lengthAdjust="spacingAndGlyphs">28</text></g>
<line x1="345.19" y1="1437.30" x2="345.19" y2="1444.60" stroke="#D9D9D9" stroke-width="1.90"/>
<g transform="translate(354.99,1468.70) rotate(-45)" fill="#595959"><text x="-39.21" y="0" font-size="22.70" textLength="13.00" lengthAdjust="spacingAndGlyphs">5</text><text transform="translate(-25.89,3.32) matrix(1,0,-0.1693,1,0,0)" font-size="28.60">/</text><text x="-12.02" y="0" font-size="22.70" textLength="13.00" lengthAdjust="spacingAndGlyphs">5</text></g>
<line x1="418.98" y1="1437.30" x2="418.98" y2="1444.60" stroke="#D9D9D9" stroke-width="1.90"/>
<g transform="translate(428.78,1468.70) rotate(-45)" fill="#595959"><text x="-51.17" y="0" font-size="22.70" textLength="13.00" lengthAdjust="spacingAndGlyphs">5</text><text transform="translate(-37.85,3.32) matrix(1,0,-0.1693,1,0,0)" font-size="28.60">/</text><text x="-24.83" y="0" font-size="22.70" textLength="26.01" lengthAdjust="spacingAndGlyphs">12</text></g>
<line x1="492.78" y1="1437.30" x2="492.78" y2="1444.60" stroke="#D9D9D9" stroke-width="1.90"/>
<g transform="translate(502.58,1468.70) rotate(-45)" fill="#595959"><text x="-51.24" y="0" font-size="22.70" textLength="13.00" lengthAdjust="spacingAndGlyphs">5</text><text transform="translate(-37.92,3.32) matrix(1,0,-0.1693,1,0,0)" font-size="28.60">/</text><text x="-24.90" y="0" font-size="22.70" textLength="26.01" lengthAdjust="spacingAndGlyphs">19</text></g>
<line x1="566.57" y1="1437.30" x2="566.57" y2="1444.60" stroke="#D9D9D9" stroke-width="1.90"/>
<g transform="translate(576.37,1468.70) rotate(-45)" fill="#595959"><text x="-51.92" y="0" font-size="22.70" textLength="13.00" lengthAdjust="spacingAndGlyphs">5</text><text transform="translate(-38.60,3.32) matrix(1,0,-0.1693,1,0,0)" font-size="28.60">/</text><text x="-24.98" y="0" font-size="22.70" textLength="26.01" lengthAdjust="spacingAndGlyphs">26</text></g>
<line x1="640.37" y1="1437.30" x2="640.37" y2="1444.60" stroke="#D9D9D9" stroke-width="1.90"/>
<g transform="translate(650.17,1468.70) rotate(-45)" fill="#595959"><text x="-38.73" y="0" font-size="22.70" textLength="13.00" lengthAdjust="spacingAndGlyphs">6</text><text transform="translate(-25.45,3.32) matrix(1,0,-0.1693,1,0,0)" font-size="28.60">/</text><text x="-11.83" y="0" font-size="22.70" textLength="13.00" lengthAdjust="spacingAndGlyphs">2</text></g>
<line x1="714.16" y1="1437.30" x2="714.16" y2="1444.60" stroke="#D9D9D9" stroke-width="1.90"/>
<g transform="translate(723.96,1468.70) rotate(-45)" fill="#595959"><text x="-38.88" y="0" font-size="22.70" textLength="13.00" lengthAdjust="spacingAndGlyphs">6</text><text transform="translate(-25.60,3.32) matrix(1,0,-0.1693,1,0,0)" font-size="28.60">/</text><text x="-11.90" y="0" font-size="22.70" textLength="13.00" lengthAdjust="spacingAndGlyphs">9</text></g>
<line x1="787.96" y1="1437.30" x2="787.96" y2="1444.60" stroke="#D9D9D9" stroke-width="1.90"/>
<g transform="translate(797.76,1468.70) rotate(-45)" fill="#595959"><text x="-51.27" y="0" font-size="22.70" textLength="13.00" lengthAdjust="spacingAndGlyphs">6</text><text transform="translate(-38.00,3.32) matrix(1,0,-0.1693,1,0,0)" font-size="28.60">/</text><text x="-24.98" y="0" font-size="22.70" textLength="26.01" lengthAdjust="spacingAndGlyphs">16</text></g>
<line x1="861.76" y1="1437.30" x2="861.76" y2="1444.60" stroke="#D9D9D9" stroke-width="1.90"/>
<g transform="translate(871.56,1468.70) rotate(-45)" fill="#595959"><text x="-51.88" y="0" font-size="22.70" textLength="13.00" lengthAdjust="spacingAndGlyphs">6</text><text transform="translate(-38.60,3.32) matrix(1,0,-0.1693,1,0,0)" font-size="28.60">/</text><text x="-24.98" y="0" font-size="22.70" textLength="26.01" lengthAdjust="spacingAndGlyphs">23</text></g>
<line x1="935.55" y1="1437.30" x2="935.55" y2="1444.60" stroke="#D9D9D9" stroke-width="1.90"/>
<g transform="translate(945.35,1468.70) rotate(-45)" fill="#595959"><text x="-52.28" y="0" font-size="22.70" textLength="13.00" lengthAdjust="spacingAndGlyphs">6</text><text transform="translate(-39.00,3.32) matrix(1,0,-0.1693,1,0,0)" font-size="28.60">/</text><text x="-25.09" y="0" font-size="22.70" textLength="26.01" lengthAdjust="spacingAndGlyphs">30</text></g>
<line x1="1009.35" y1="1437.30" x2="1009.35" y2="1444.60" stroke="#D9D9D9" stroke-width="1.90"/>
<g transform="translate(1019.15,1468.70) rotate(-45)" fill="#595959"><text x="-38.56" y="0" font-size="22.70" textLength="13.00" lengthAdjust="spacingAndGlyphs">7</text><text transform="translate(-25.43,3.32) matrix(1,0,-0.1693,1,0,0)" font-size="28.60">/</text><text x="-11.83" y="0" font-size="22.70" textLength="13.00" lengthAdjust="spacingAndGlyphs">7</text></g>
<text x="559.46" y="1525.80" font-size="22.82" textLength="47.33" lengthAdjust="spacingAndGlyphs" fill="#595959">Date</text>
<polyline fill="none" stroke="#5A81BA" stroke-width="4.30" stroke-linejoin="round" stroke-linecap="round" points="129.1,1276.3 139.6,1238.3 150.2,1339.0 160.7,1346.3 171.2,1415.7 181.8,1418.3 192.3,1359.7 202.9,1377.7 213.4,1373.7 224.0,1345.7 234.5,1375.0 245.0,1337.7 255.6,1397.7 266.1,1367.7 276.7,1384.3 287.2,1389.7 297.7,1385.0 308.3,1333.7 318.8,1360.0 329.4,1338.3 339.9,1327.7 350.5,1274.3 361.0,1355.7 371.5,1373.0 382.1,1336.3 392.6,1367.7 403.2,1365.0 413.7,1349.0 424.3,1408.3 434.8,1385.7 445.3,1388.3 455.9,1405.0 466.4,1403.0 477.0,1383.7 487.5,1367.7 498.0,1364.3 508.6,1379.7 519.1,1394.3 529.7,1361.7 540.2,1405.7 550.8,1406.3 561.3,1391.7 571.8,1408.3 582.4,1422.3 592.9,1436.3 603.5,1436.3 614.0,1367.7 624.6,1357.0 635.1,1405.7 645.6,1391.0 656.2,1408.3 666.7,1393.0 677.3,1365.7 687.8,1373.0 698.4,1377.7 708.9,1388.3 719.4,1395.0 730.0,1407.7 740.5,1409.0 751.1,1397.7 761.6,1407.0 772.1,1436.3 782.7,1371.7 793.2,1343.0 803.8,1436.3 814.3,1383.7 824.9,1398.3 835.4,1396.3 845.9,1353.7 856.5,1340.3 867.0,1356.3 877.6,1386.3 888.1,1324.3 898.7,1409.7 909.2,1409.7 919.7,1383.7 930.3,1377.7 940.8,1351.7 951.4,1353.7 961.9,1393.7 972.4,1393.7 983.0,1391.0 993.5,1382.3 1004.1,1377.7 1014.6,1345.0 1025.2,1258.3 1035.7,1396.3 1046.2,1368.3 1056.8,1360.3 1067.3,1332.3"/>
<line x1="1343.90" y1="953.30" x2="1982.50" y2="953.30" stroke="#D9D9D9" stroke-width="1.90"/>
<text x="1308.49" y="961.55" font-size="23.98" textLength="14.21" lengthAdjust="spacingAndGlyphs" fill="#595959">0</text>
<line x1="1343.90" y1="918.89" x2="1982.50" y2="918.89" stroke="#D9D9D9" stroke-width="1.90"/>
<text x="1294.29" y="927.14" font-size="23.98" textLength="28.41" lengthAdjust="spacingAndGlyphs" fill="#595959">20</text>
<line x1="1343.90" y1="884.48" x2="1982.50" y2="884.48" stroke="#D9D9D9" stroke-width="1.90"/>
<text x="1294.29" y="892.73" font-size="23.98" textLength="28.41" lengthAdjust="spacingAndGlyphs" fill="#595959">40</text>
<line x1="1343.90" y1="850.07" x2="1982.50" y2="850.07" stroke="#D9D9D9" stroke-width="1.90"/>
<text x="1294.29" y="858.32" font-size="23.98" textLength="28.41" lengthAdjust="spacingAndGlyphs" fill="#595959">60</text>
<line x1="1343.90" y1="815.66" x2="1982.50" y2="815.66" stroke="#D9D9D9" stroke-width="1.90"/>
<text x="1294.29" y="823.91" font-size="23.98" textLength="28.41" lengthAdjust="spacingAndGlyphs" fill="#595959">80</text>
<line x1="1343.90" y1="781.25" x2="1982.50" y2="781.25" stroke="#D9D9D9" stroke-width="1.90"/>
<text x="1280.08" y="789.50" font-size="23.98" textLength="42.62" lengthAdjust="spacingAndGlyphs" fill="#595959">100</text>
<line x1="1343.90" y1="746.84" x2="1982.50" y2="746.84" stroke="#D9D9D9" stroke-width="1.90"/>
<text x="1280.08" y="755.09" font-size="23.98" textLength="42.62" lengthAdjust="spacingAndGlyphs" fill="#595959">120</text>
<line x1="1343.90" y1="712.43" x2="1982.50" y2="712.43" stroke="#D9D9D9" stroke-width="1.90"/>
<text x="1280.08" y="720.68" font-size="23.98" textLength="42.62" lengthAdjust="spacingAndGlyphs" fill="#595959">140</text>
<line x1="1343.90" y1="953.30" x2="1343.90" y2="960.30" stroke="#D9D9D9" stroke-width="1.90"/>
<g transform="translate(1357.70,983.10) rotate(-45)" fill="#595959"><text x="-52.10" y="0" font-size="22.70" textLength="13.00" lengthAdjust="spacingAndGlyphs">5</text><text transform="translate(-38.77,3.32) matrix(1,0,-0.1693,1,0,0)" font-size="28.60">/</text><text x="-24.87" y="0" font-size="22.70" textLength="26.01" lengthAdjust="spacingAndGlyphs">31</text></g>
<line x1="1468.07" y1="953.30" x2="1468.07" y2="960.30" stroke="#D9D9D9" stroke-width="1.90"/>
<g transform="translate(1481.87,983.10) rotate(-45)" fill="#595959"><text x="-38.70" y="0" font-size="22.70" textLength="13.00" lengthAdjust="spacingAndGlyphs">6</text><text transform="translate(-25.43,3.32) matrix(1,0,-0.1693,1,0,0)" font-size="28.60">/</text><text x="-11.83" y="0" font-size="22.70" textLength="13.00" lengthAdjust="spacingAndGlyphs">7</text></g>
<line x1="1592.24" y1="953.30" x2="1592.24" y2="960.30" stroke="#D9D9D9" stroke-width="1.90"/>
<g transform="translate(1606.04,983.10) rotate(-45)" fill="#595959"><text x="-51.62" y="0" font-size="22.70" textLength="13.00" lengthAdjust="spacingAndGlyphs">6</text><text transform="translate(-38.34,3.32) matrix(1,0,-0.1693,1,0,0)" font-size="28.60">/</text><text x="-25.32" y="0" font-size="22.70" textLength="26.01" lengthAdjust="spacingAndGlyphs">14</text></g>
<line x1="1716.42" y1="953.30" x2="1716.42" y2="960.30" stroke="#D9D9D9" stroke-width="1.90"/>
<g transform="translate(1730.22,983.10) rotate(-45)" fill="#595959"><text x="-51.77" y="0" font-size="22.70" textLength="13.00" lengthAdjust="spacingAndGlyphs">6</text><text transform="translate(-38.49,3.32) matrix(1,0,-0.1693,1,0,0)" font-size="28.60">/</text><text x="-24.87" y="0" font-size="22.70" textLength="26.01" lengthAdjust="spacingAndGlyphs">21</text></g>
<line x1="1840.59" y1="953.30" x2="1840.59" y2="960.30" stroke="#D9D9D9" stroke-width="1.90"/>
<g transform="translate(1854.39,983.10) rotate(-45)" fill="#595959"><text x="-51.89" y="0" font-size="22.70" textLength="13.00" lengthAdjust="spacingAndGlyphs">6</text><text transform="translate(-38.61,3.32) matrix(1,0,-0.1693,1,0,0)" font-size="28.60">/</text><text x="-24.99" y="0" font-size="22.70" textLength="26.01" lengthAdjust="spacingAndGlyphs">28</text></g>
<line x1="1964.76" y1="953.30" x2="1964.76" y2="960.30" stroke="#D9D9D9" stroke-width="1.90"/>
<g transform="translate(1978.56,983.10) rotate(-45)" fill="#595959"><text x="-39.01" y="0" font-size="22.70" textLength="13.00" lengthAdjust="spacingAndGlyphs">7</text><text transform="translate(-25.89,3.32) matrix(1,0,-0.1693,1,0,0)" font-size="28.60">/</text><text x="-12.02" y="0" font-size="22.70" textLength="13.00" lengthAdjust="spacingAndGlyphs">5</text></g>
<polyline fill="none" stroke="#5C4A7A" stroke-width="5.40" stroke-linejoin="round" stroke-linecap="round" points="1352.8,898.2 1476.9,901.7 1601.1,877.6 1725.3,738.2 1849.5,767.5 1973.6,748.6"/>
<text x="1575.90" y="1053.90" font-size="23.26" textLength="160.02" lengthAdjust="spacingAndGlyphs" fill="#595959">Week start date</text>
<line x1="1343.90" y1="1428.90" x2="1982.50" y2="1428.90" stroke="#D9D9D9" stroke-width="1.90"/>
<text x="1308.49" y="1437.15" font-size="23.98" textLength="14.21" lengthAdjust="spacingAndGlyphs" fill="#595959">0</text>
<line x1="1343.90" y1="1389.52" x2="1982.50" y2="1389.52" stroke="#D9D9D9" stroke-width="1.90"/>
<text x="1294.29" y="1397.77" font-size="23.98" textLength="28.41" lengthAdjust="spacingAndGlyphs" fill="#595959">50</text>
<line x1="1343.90" y1="1350.14" x2="1982.50" y2="1350.14" stroke="#D9D9D9" stroke-width="1.90"/>
<text x="1280.08" y="1358.39" font-size="23.98" textLength="42.62" lengthAdjust="spacingAndGlyphs" fill="#595959">100</text>
<line x1="1343.90" y1="1310.76" x2="1982.50" y2="1310.76" stroke="#D9D9D9" stroke-width="1.90"/>
<text x="1280.08" y="1319.01" font-size="23.98" textLength="42.62" lengthAdjust="spacingAndGlyphs" fill="#595959">150</text>
<line x1="1343.90" y1="1271.38" x2="1982.50" y2="1271.38" stroke="#D9D9D9" stroke-width="1.90"/>
<text x="1280.08" y="1279.63" font-size="23.98" textLength="42.62" lengthAdjust="spacingAndGlyphs" fill="#595959">200</text>
<line x1="1343.90" y1="1232.00" x2="1982.50" y2="1232.00" stroke="#D9D9D9" stroke-width="1.90"/>
<text x="1280.08" y="1240.25" font-size="23.98" textLength="42.62" lengthAdjust="spacingAndGlyphs" fill="#595959">250</text>
<line x1="1343.90" y1="1192.62" x2="1982.50" y2="1192.62" stroke="#D9D9D9" stroke-width="1.90"/>
<text x="1280.08" y="1200.87" font-size="23.98" textLength="42.62" lengthAdjust="spacingAndGlyphs" fill="#595959">300</text>
<line x1="1343.90" y1="1428.90" x2="1343.90" y2="1435.90" stroke="#D9D9D9" stroke-width="1.90"/>
<g transform="translate(1357.70,1458.70) rotate(-45)" fill="#595959"><text x="-52.10" y="0" font-size="22.70" textLength="13.00" lengthAdjust="spacingAndGlyphs">5</text><text transform="translate(-38.77,3.32) matrix(1,0,-0.1693,1,0,0)" font-size="28.60">/</text><text x="-24.87" y="0" font-size="22.70" textLength="26.01" lengthAdjust="spacingAndGlyphs">31</text></g>
<line x1="1468.07" y1="1428.90" x2="1468.07" y2="1435.90" stroke="#D9D9D9" stroke-width="1.90"/>
<g transform="translate(1481.87,1458.70) rotate(-45)" fill="#595959"><text x="-38.70" y="0" font-size="22.70" textLength="13.00" lengthAdjust="spacingAndGlyphs">6</text><text transform="translate(-25.43,3.32) matrix(1,0,-0.1693,1,0,0)" font-size="28.60">/</text><text x="-11.83" y="0" font-size="22.70" textLength="13.00" lengthAdjust="spacingAndGlyphs">7</text></g>
<line x1="1592.24" y1="1428.90" x2="1592.24" y2="1435.90" stroke="#D9D9D9" stroke-width="1.90"/>
<g transform="translate(1606.04,1458.70) rotate(-45)" fill="#595959"><text x="-51.62" y="0" font-size="22.70" textLength="13.00" lengthAdjust="spacingAndGlyphs">6</text><text transform="translate(-38.34,3.32) matrix(1,0,-0.1693,1,0,0)" font-size="28.60">/</text><text x="-25.32" y="0" font-size="22.70" textLength="26.01" lengthAdjust="spacingAndGlyphs">14</text></g>
<line x1="1716.42" y1="1428.90" x2="1716.42" y2="1435.90" stroke="#D9D9D9" stroke-width="1.90"/>
<g transform="translate(1730.22,1458.70) rotate(-45)" fill="#595959"><text x="-51.77" y="0" font-size="22.70" textLength="13.00" lengthAdjust="spacingAndGlyphs">6</text><text transform="translate(-38.49,3.32) matrix(1,0,-0.1693,1,0,0)" font-size="28.60">/</text><text x="-24.87" y="0" font-size="22.70" textLength="26.01" lengthAdjust="spacingAndGlyphs">21</text></g>
<line x1="1840.59" y1="1428.90" x2="1840.59" y2="1435.90" stroke="#D9D9D9" stroke-width="1.90"/>
<g transform="translate(1854.39,1458.70) rotate(-45)" fill="#595959"><text x="-51.89" y="0" font-size="22.70" textLength="13.00" lengthAdjust="spacingAndGlyphs">6</text><text transform="translate(-38.61,3.32) matrix(1,0,-0.1693,1,0,0)" font-size="28.60">/</text><text x="-24.99" y="0" font-size="22.70" textLength="26.01" lengthAdjust="spacingAndGlyphs">28</text></g>
<line x1="1964.76" y1="1428.90" x2="1964.76" y2="1435.90" stroke="#D9D9D9" stroke-width="1.90"/>
<g transform="translate(1978.56,1458.70) rotate(-45)" fill="#595959"><text x="-39.01" y="0" font-size="22.70" textLength="13.00" lengthAdjust="spacingAndGlyphs">7</text><text transform="translate(-25.89,3.32) matrix(1,0,-0.1693,1,0,0)" font-size="28.60">/</text><text x="-12.02" y="0" font-size="22.70" textLength="13.00" lengthAdjust="spacingAndGlyphs">5</text></g>
<polyline fill="none" stroke="#D5712B" stroke-width="5.40" stroke-linejoin="round" stroke-linecap="round" points="1352.8,1378.5 1476.9,1380.1 1601.1,1332.4 1725.3,1227.3 1849.5,1228.5 1973.6,1228.8"/>
<text x="1584.10" y="1527.80" font-size="23.26" textLength="160.02" lengthAdjust="spacingAndGlyphs" fill="#595959">Week start date</text>
<text x="364.70" y="628.90" font-size="28.49" textLength="455.70" lengthAdjust="spacingAndGlyphs" fill="#000">Daily percent of ED visits mentioning</text>
<text x="365.62" y="1115.90" font-size="28.49" textLength="451.79" lengthAdjust="spacingAndGlyphs" fill="#000">Daily percent of ED visits resulting in</text>
<text x="1408.98" y="627.70" font-size="28.49" textLength="480.07" lengthAdjust="spacingAndGlyphs" fill="#000">Weekly count of ED and FSED visits for</text>
<text x="1409.58" y="1116.00" font-size="28.49" textLength="478.87" lengthAdjust="spacingAndGlyphs" fill="#000">Weekly count of ED and FSED visits for</text>
<text x="362.07" y="668.80" font-size="28.57" textLength="458.82" lengthAdjust="spacingAndGlyphs"><tspan fill="#376092" stroke="#376092" stroke-width="0.45">cough,</tspan><tspan fill="#953735" stroke="#953735" stroke-width="0.45"> fever,</tspan><tspan fill="#000"> or </tspan><tspan fill="#76923C" stroke="#76923C" stroke-width="0.45">shortness of breath</tspan></text>
<text x="386.87" y="1158.00" font-size="28.57" textLength="409.25" lengthAdjust="spacingAndGlyphs"><tspan fill="#376092" stroke="#376092" stroke-width="0.45">cough-associated admissions</tspan></text>
<text x="1508.08" y="669.50" font-size="28.57" textLength="282.07" lengthAdjust="spacingAndGlyphs"><tspan fill="#5F497A" stroke="#5F497A" stroke-width="0.45">influenza-like illness</tspan></text>
<text x="1526.87" y="1157.70" font-size="28.57" textLength="242.92" lengthAdjust="spacingAndGlyphs"><tspan fill="#974806" stroke="#974806" stroke-width="0.45">COVID-like illness</tspan></text>
<text x="23.70" y="1610.00" font-size="22.67" textLength="2004.60" lengthAdjust="spacingAndGlyphs" fill="#000">The Electronic Surveillance System for the Early Notification of Community-Based Epidemics (ESSENCE-FL) includes chief complaint data from 211 of 212 Florida EDs and 77 of 80 Florida FSEDs. Data</text>
<text x="23.76" y="1639.60" font-size="22.67" textLength="601.26" lengthAdjust="spacingAndGlyphs" fill="#000">are transmitted electronically to ESSENCE-FL daily or hourly.</text>
</svg>
</body></html>
